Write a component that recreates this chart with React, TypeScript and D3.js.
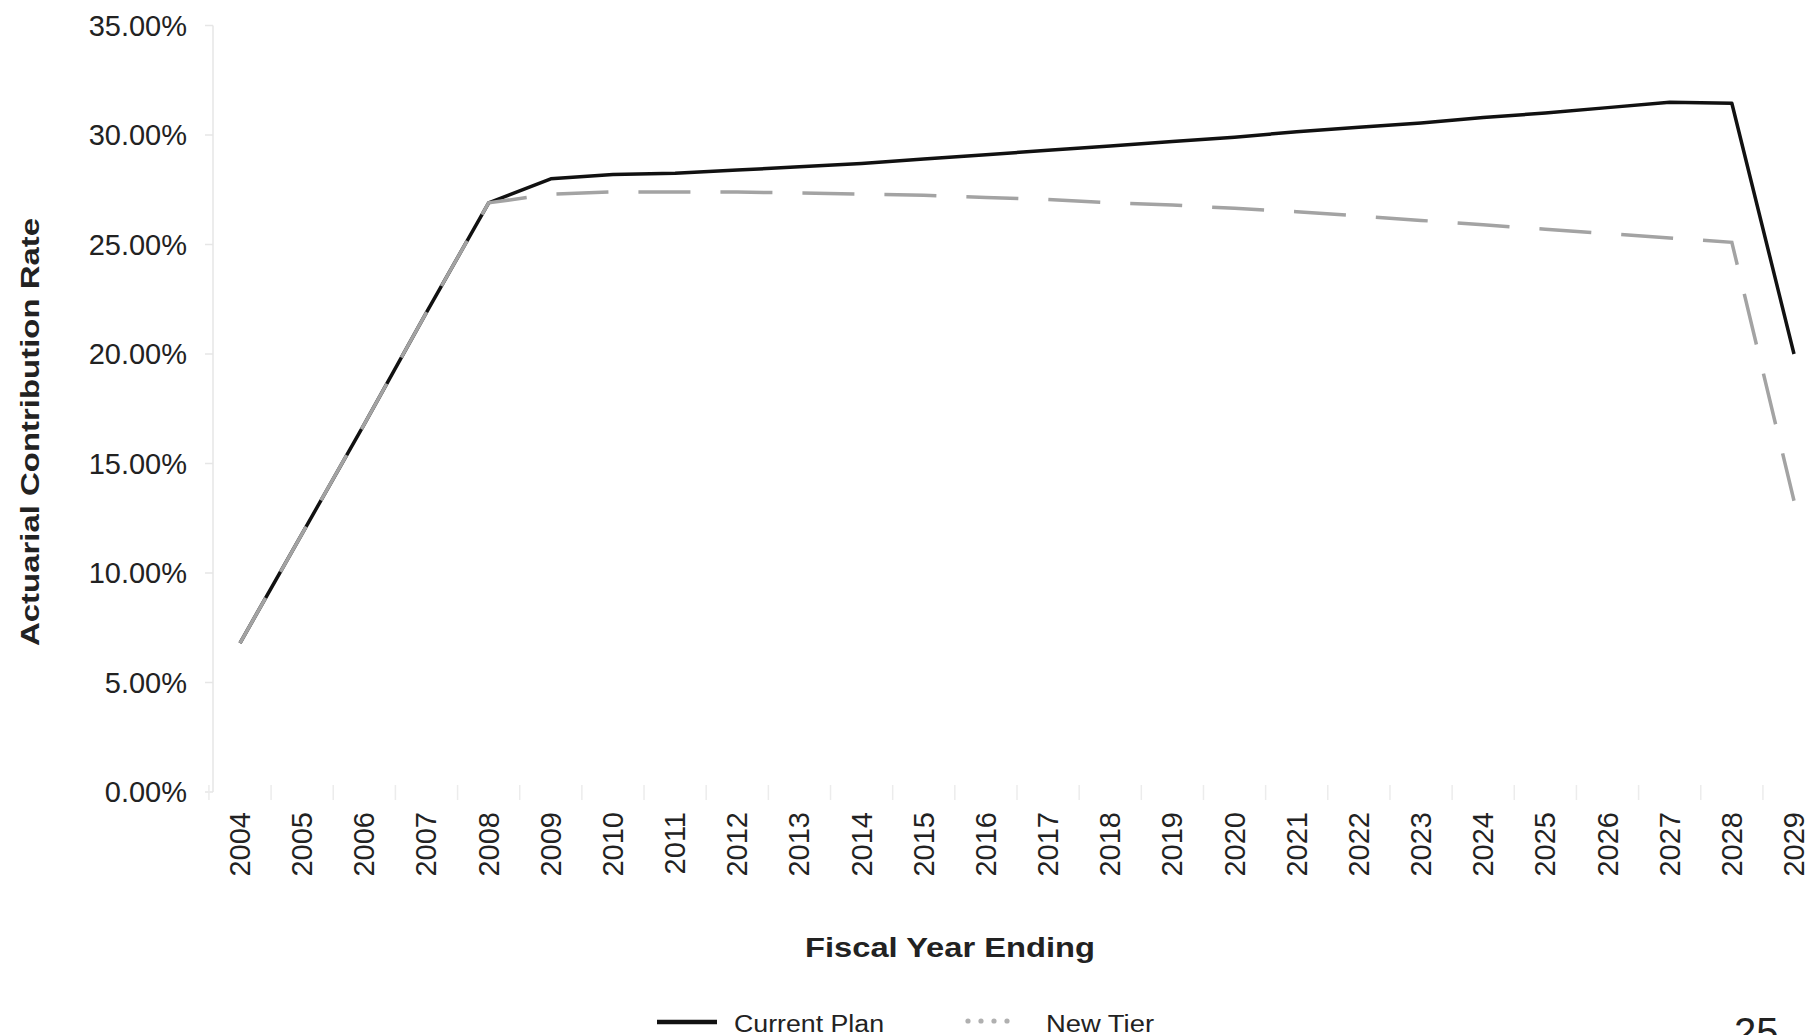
import React from "react";
import * as d3 from "d3";

const years: number[] = [
  2004, 2005, 2006, 2007, 2008, 2009, 2010, 2011, 2012, 2013, 2014, 2015, 2016,
  2017, 2018, 2019, 2020, 2021, 2022, 2023, 2024, 2025, 2026, 2027, 2028, 2029,
];

const currentPlan: number[] = [
  6.8, 11.8, 16.8, 21.9, 26.9, 28.0, 28.2, 28.25, 28.4, 28.55, 28.7, 28.9, 29.1,
  29.3, 29.5, 29.7, 29.9, 30.15, 30.35, 30.55, 30.8, 31.0, 31.25, 31.5, 31.45, 20.0,
];

const newTier: number[] = [
  6.8, 11.8, 16.8, 21.9, 26.9, 27.3, 27.4, 27.4, 27.4, 27.35, 27.3, 27.25, 27.15,
  27.05, 26.9, 26.8, 26.65, 26.5, 26.3, 26.1, 25.9, 25.7, 25.5, 25.3, 25.1, 13.3,
];

const yTicks: number[] = [0, 5, 10, 15, 20, 25, 30, 35];

const seriesNames: string[] = ["Current Plan", "New Tier"];
const yTitle = "Actuarial Contribution Rate";
const xTitle = "Fiscal Year Ending";
const pageNumber = "25";

const W = 1808;
const H = 1035;
const FONT = "'Liberation Sans', Arial, sans-serif";

export default function App() {
  const x = d3.scalePoint<number>().domain(years).range([240, 1794]);
  const step = x.step();
  const y = d3.scaleLinear().domain([0, 35]).range([792, 25.5]);

  const line = d3
    .line<number>()
    .x((_, i) => x(years[i]) as number)
    .y((d) => y(d));

  const boundaries = years.map((yr) => (x(yr) as number) - step / 2);

  return (
    <svg
      width={W}
      height={H}
      style={{ position: "absolute", left: 0, top: 0, background: "#fff" }}
      fontFamily={FONT}
    >
      <rect x={0} y={0} width={W} height={H} fill="#fff" />
      {/* y axis */}
      <line x1={213} x2={213} y1={y(35)} y2={y(0)} stroke="#e6e6e6" strokeWidth={1.5} />
      {yTicks.map((t) => (
        <g key={t}>
          <line x1={205} x2={213} y1={y(t)} y2={y(t)} stroke="#e6e6e6" strokeWidth={1.5} />
          <text
            x={187}
            y={y(t)}
            dy="0.36em"
            textAnchor="end"
            fontSize={29}
            fill="#222"
          >
            {t.toFixed(2) + "%"}
          </text>
        </g>
      ))}
      {/* x ticks */}
      {boundaries.map((bx, i) => (
        <line key={i} x1={bx} x2={bx} y1={785} y2={800} stroke="#ececec" strokeWidth={1.5} />
      ))}
      {years.map((yr) => (
        <text
          key={yr}
          transform={`translate(${(x(yr) as number) + 10},812) rotate(-90)`}
          textAnchor="end"
          fontSize={29}
          fill="#222"
        >
          {yr}
        </text>
      ))}
      {/* series */}
      <path d={line(currentPlan) || ""} fill="none" stroke="#111" strokeWidth={3.5} strokeLinejoin="round" />
      <path
        d={line(newTier) || ""}
        fill="none"
        stroke="#a3a3a3"
        strokeWidth={3.5}
        strokeDasharray="52 30"
      />
      {/* axis titles */}
      <text
        transform={`translate(39,432) rotate(-90)`}
        textAnchor="middle"
        fontSize={26}
        fontWeight="bold"
        fill="#222"
        textLength={428}
        lengthAdjust="spacingAndGlyphs"
      >
        {yTitle}
      </text>
      <text
        x={950}
        y={957}
        textAnchor="middle"
        fontSize={27}
        fontWeight="bold"
        fill="#222"
        textLength={290}
        lengthAdjust="spacingAndGlyphs"
      >
        {xTitle}
      </text>
      {/* legend */}
      <line x1={657} x2={717} y1={1022} y2={1022} stroke="#111" strokeWidth={4.5} />
      <text x={734} y={1032} fontSize={23} fill="#222" textLength={150} lengthAdjust="spacingAndGlyphs">
        {seriesNames[0]}
      </text>
      {[0, 1, 2, 3].map((k) => (
        <circle key={k} cx={968 + k * 13} cy={1021} r={2.6} fill="#b0b0b0" />
      ))}
      <text x={1046} y={1032} fontSize={23} fill="#222" textLength={108} lengthAdjust="spacingAndGlyphs">
        {seriesNames[1]}
      </text>
      {/* page number */}
      <text x={1734} y={1046} fontSize={40} fill="#222">
        {pageNumber}
      </text>
    </svg>
  );
}
